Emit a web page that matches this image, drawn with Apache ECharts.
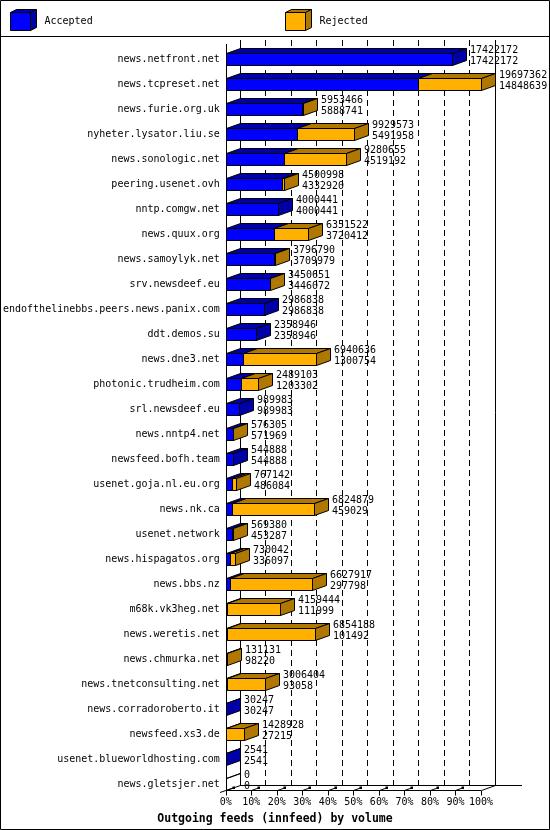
<!DOCTYPE html>
<html>
<head>
<meta charset="utf-8">
<script src="https://cdn.jsdelivr.net/npm/echarts@6/dist/echarts.min.js"></script>
<style>
html,body{margin:0;padding:0;background:#fff;}
#chart{width:550px;height:830px;}
</style>
</head>
<body>
<div id="chart"></div>
<script>
// ---- data ----
const categories = [
  'news.netfront.net','news.tcpreset.net','news.furie.org.uk','nyheter.lysator.liu.se',
  'news.sonologic.net','peering.usenet.ovh','nntp.comgw.net','news.quux.org',
  'news.samoylyk.net','srv.newsdeef.eu','endofthelinebbs.peers.news.panix.com','ddt.demos.su',
  'news.dne3.net','photonic.trudheim.com','srl.newsdeef.eu','news.nntp4.net',
  'newsfeed.bofh.team','usenet.goja.nl.eu.org','news.nk.ca','usenet.network',
  'news.hispagatos.org','news.bbs.nz','m68k.vk3heg.net','news.weretis.net',
  'news.chmurka.net','news.tnetconsulting.net','news.corradoroberto.it','newsfeed.xs3.de',
  'usenet.blueworldhosting.com','news.gletsjer.net'
];
const offered = [
  17422172,19697362,5953466,9929573,
  9280655,4500998,4000441,6351522,
  3796790,3450651,2986838,2358946,
  6940636,2489103,989983,576305,
  544888,767142,6824879,569380,
  730042,6627917,4159444,6854188,
  131131,3006404,30247,1428928,
  2541,0
];
const accepted = [
  17422172,14848639,5888741,5491958,
  4519192,4332920,4000441,3720412,
  3709979,3446072,2986838,2358946,
  1300754,1203302,989983,571969,
  544888,486084,459029,453287,
  336097,297798,111999,101492,
  98220,93058,30247,27215,
  2541,0
];
const tickLabels = ['0%','10%','20%','30%','40%','50%','60%','70%','80%','90%','100%'];
const seriesNames = ['Accepted','Rejected'];

// ---- styling ----
const BLUE = '#0000ff', BLUE_D = '#0000a8';
const ORANGE = '#ffb000', ORANGE_D = '#b07800';
const DX = 14, DY = 5, HALF = 6;
const FONT = 'DejaVu Sans Mono, Liberation Mono, monospace';
const maxOffered = Math.max.apply(null, offered);

const R = v => Math.round(v) + 0.5;
const stroke = { stroke: '#000', lineWidth: 1 };

function face(points, fill) {
  return { type: 'polygon', shape: { points: points }, style: Object.assign({ fill: fill }, stroke) };
}
function segment(xa, xb, yc, fillFront, fillTop) {
  const top = R(yc - HALF), bot = R(yc + HALF);
  return [
    face([[xa, top], [xb, top], [xb + DX, top - DY], [xa + DX, top - DY]], fillTop),
    { type: 'rect', shape: { x: xa, y: top, width: xb - xa, height: bot - top }, style: Object.assign({ fill: fillFront }, stroke) }
  ];
}
function rightFace(x, yc, fill) {
  const top = R(yc - HALF), bot = R(yc + HALF);
  return face([[x, top], [x + DX, top - DY], [x + DX, bot - DY], [x, bot]], fill);
}

const rows = categories.map((c, i) => [i, offered[i], accepted[i]]);

function pos(api, v, i) { return api.coord([v / maxOffered * 100, i]); }

function renderAccepted(params, api) {
  const i = api.value(0), tot = api.value(1), acc = api.value(2);
  const p0 = pos(api, 0, i), pa = pos(api, acc, i);
  const x0 = R(p0[0]), xa = R(pa[0]), yc = p0[1];
  const children = segment(x0, xa, yc, BLUE, tot > 0 ? BLUE_D : 'none');
  if (tot > 0 && tot === acc) children.push(rightFace(xa, yc, BLUE_D));
  return { type: 'group', children: children };
}
function renderRejected(params, api) {
  const i = api.value(0), tot = api.value(1), acc = api.value(2);
  if (!(tot > acc)) return { type: 'group', children: [] };
  const pa = pos(api, acc, i), pt = pos(api, tot, i);
  const xa = R(pa[0]), xt = R(pt[0]), yc = pa[1];
  const children = segment(xa, xt, yc, ORANGE, ORANGE_D);
  children.push(rightFace(xt, yc, ORANGE_D));
  return { type: 'group', children: children };
}
function renderLabels(params, api) {
  const i = api.value(0), tot = api.value(1), acc = api.value(2);
  const pt = pos(api, tot, i);
  return {
    type: 'text',
    style: {
      x: Math.round(pt[0]) + DX + 4, y: pt[1] - 3.5,
      text: tot + '\n' + acc,
      font: '10px ' + FONT, fill: '#000',
      verticalAlign: 'middle', align: 'left', lineHeight: 11
    }
  };
}
function renderFrame(params, api) {
  const cs = params.coordSys;
  const xL = Math.round(cs.x), xR = Math.round(cs.x + cs.width);
  const floorF = Math.round(cs.y + cs.height - 6.5), floorB = floorF - DY;
  const topB = Math.round(cs.y - 6.5), topF = Math.round(cs.y - 3);
  const ch = [];
  const line = (x1, y1, x2, y2, extra) => ch.push({ type: 'line', shape: { x1: x1, y1: y1, x2: x2, y2: y2 }, style: Object.assign({ stroke: '#000', lineWidth: 1 }, extra || {}) });
  // back wall verticals
  line(xL + DX + 0.5, topB, xL + DX + 0.5, floorB + 0.5);
  line(xR + DX + 0.5, topB, xR + DX + 0.5, floorB + 0.5);
  for (let k = 1; k < 10; k++) {
    const x = Math.round(cs.x + DX + k * cs.width / 10) + 0.5;
    line(x, topB, x, floorB, { lineDash: [6, 4] });
  }
  // front axis
  line(xL + 0.5, topF, xL + 0.5, floorF + 0.5);
  // floor
  line(xL, floorF + 0.5, xR, floorF + 0.5);
  line(xL + DX, floorB + 0.5, xR + DX + 27, floorB + 0.5);
  line(xL - 6, floorF + 2.5, xL + DX + 0.5, floorB + 0.5);
  line(xR + 0.5, floorF + 0.5, xR + DX + 0.5, floorB + 0.5);
  for (let k = 0; k <= 10; k++) {
    const x = Math.round(cs.x + k * cs.width / 10) + 0.5;
    line(x, floorF + 0.5, x, floorF + 5.5);
    if (k < 10) {
      line(x, floorF + 0.5, x + 7, floorF - 2);
      ch.push({ type: 'rect', shape: { x: x + 6, y: floorF - 3.5, width: 2.5, height: 2.5 }, style: { fill: '#000' } });
    }
  }
  return { type: 'group', children: ch };
}

const legendBase = {
  top: 12, itemWidth: 20, itemHeight: 18, icon: 'rect', selectedMode: false, padding: 0,
  itemStyle: { borderColor: '#000', borderWidth: 1 },
  textStyle: { fontFamily: FONT, fontSize: 10, color: '#000', padding: [0, 0, 0, 9] }
};

const chart = echarts.init(document.getElementById('chart'), null, { renderer: 'canvas' });
chart.setOption({
  animation: false,
  backgroundColor: '#fff',
  title: {
    text: 'Outgoing feeds (innfeed) by volume',
    left: 'center', top: 808,
    textStyle: { fontFamily: FONT, fontSize: 11.5, fontWeight: 'bold', color: '#000', lineHeight: 13 }
  },
  legend: [
    Object.assign({ data: [seriesNames[0]], left: 10 }, legendBase),
    Object.assign({ data: [seriesNames[1]], left: 285 }, legendBase)
  ],
  graphic: [
    { type: 'rect', shape: { x: 0.5, y: 0.5, width: 549, height: 829 }, style: { fill: 'none', stroke: '#000', lineWidth: 1 }, z: 100 },
    { type: 'line', shape: { x1: 0, y1: 36.5, x2: 550, y2: 36.5 }, style: { stroke: '#000', lineWidth: 1 } },
    { type: 'polygon', shape: { points: [[10.5, 12.5], [16.5, 9.5], [36.5, 9.5], [30.5, 12.5]] }, style: { fill: BLUE_D, stroke: '#000' }, z: 100 },
    { type: 'polygon', shape: { points: [[30.5, 12.5], [36.5, 9.5], [36.5, 27.5], [30.5, 30.5]] }, style: { fill: BLUE_D, stroke: '#000' }, z: 100 },
    { type: 'polygon', shape: { points: [[285.5, 12.5], [291.5, 9.5], [311.5, 9.5], [305.5, 12.5]] }, style: { fill: ORANGE_D, stroke: '#000' }, z: 100 },
    { type: 'polygon', shape: { points: [[305.5, 12.5], [311.5, 9.5], [311.5, 27.5], [305.5, 30.5]] }, style: { fill: ORANGE_D, stroke: '#000' }, z: 100 }
  ],
  grid: { left: 225, top: 46.5, width: 256, height: 750, containLabel: false },
  xAxis: {
    type: 'value', min: 0, max: 100, interval: 10,
    axisLine: { show: false }, axisTick: { show: false }, splitLine: { show: false },
    axisLabel: { formatter: v => tickLabels[Math.round(v / 10)], fontFamily: FONT, fontSize: 10, color: '#000', margin: 6, verticalAlign: 'middle' }
  },
  yAxis: {
    type: 'category', inverse: true, data: categories,
    axisLine: { show: false }, axisTick: { show: false }, splitLine: { show: false },
    axisLabel: { fontFamily: FONT, fontSize: 10, color: '#000', margin: 6, padding: [3, 0, 0, 0] }
  },
  series: [
    { type: 'custom', name: 'frame', silent: true, data: [[0, 0]], renderItem: renderFrame, z: 1, encode: { x: 1, y: 0 } },
    { type: 'custom', name: seriesNames[0], data: rows, renderItem: renderAccepted, itemStyle: { color: BLUE }, z: 3, encode: { x: 2, y: 0 } },
    { type: 'custom', name: seriesNames[1], data: rows, renderItem: renderRejected, itemStyle: { color: ORANGE }, z: 3, encode: { x: 1, y: 0 } },
    { type: 'custom', name: 'values', silent: true, data: rows, renderItem: renderLabels, z: 4, encode: { x: 1, y: 0 } }
  ]
});
</script>
</body>
</html>
